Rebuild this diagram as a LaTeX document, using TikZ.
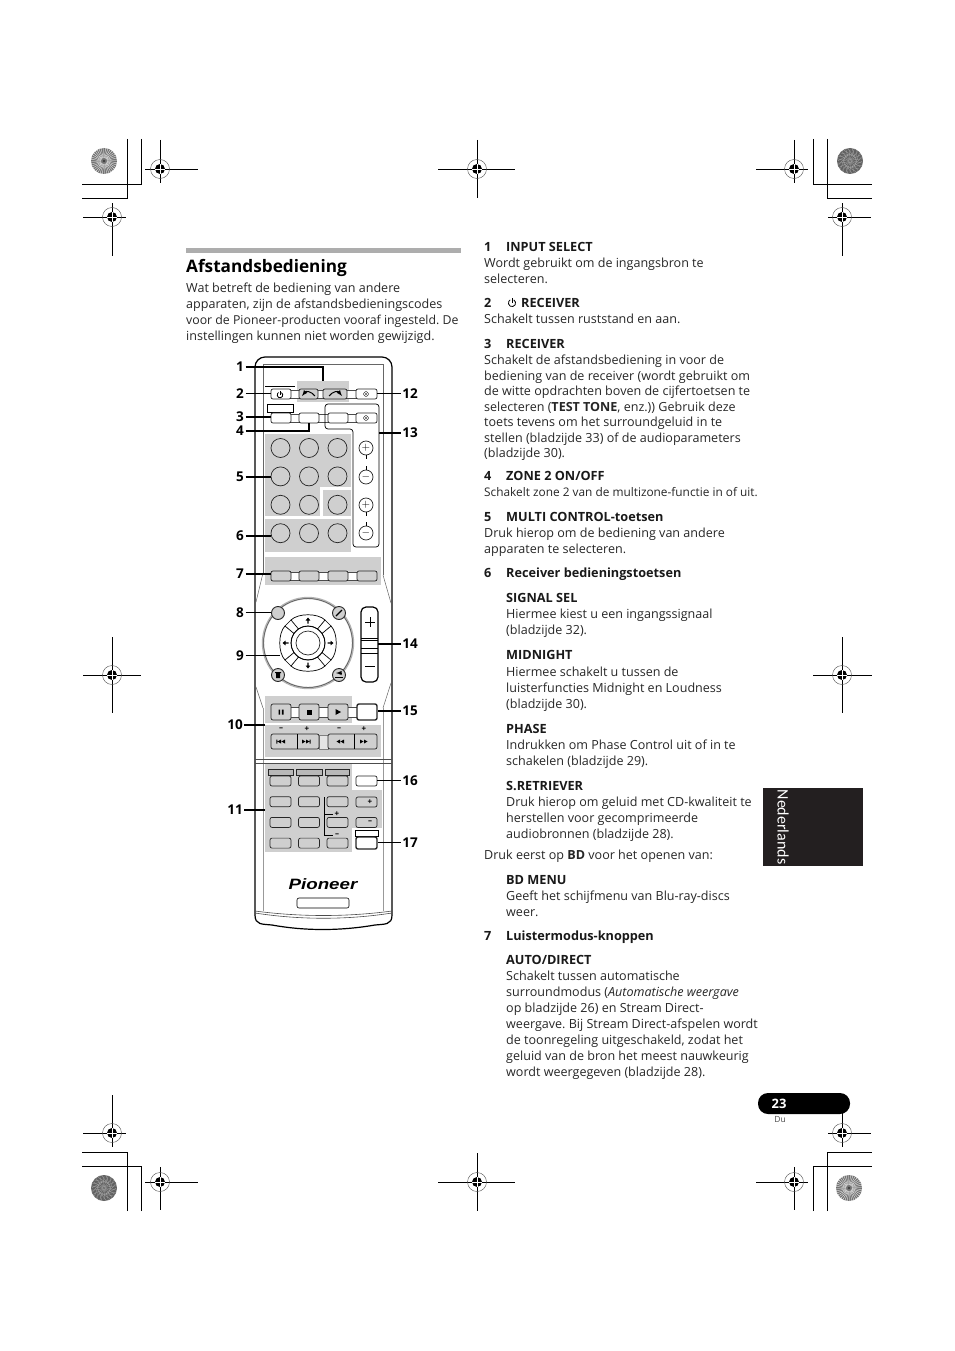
\documentclass[tikz,border=0pt]{standalone}
\usepackage{fontspec}
\setmainfont{Open Sans}
\newfontfamily\logofont[FakeStretch=1.25]{Liberation Sans}
\newfontfamily\tabfont{Carlito}
\usetikzlibrary{positioning}
\definecolor{padgray}{HTML}{CFCFCF}
\definecolor{tabblack}{HTML}{231F20}
\tikzset{
  para/.style={inner sep=0pt, anchor=north west, align=left, text=black!85, font=\frenchspacing\fontsize{12.55}{16}\selectfont, execute at begin node=\strut},
  parab/.style={para, font=\frenchspacing\fontsize{12.55}{15.5}\selectfont},
  head/.style={inner sep=0pt, anchor=north west, font=\fontsize{12.7}{16}\selectfont\bfseries, text=black!90, execute at begin node=\strut},
  lbl/.style={inner sep=1.5pt, font=\fontsize{13.5}{14}\selectfont\bfseries},
  leader/.style={line width=1.5pt},
  pad/.style={fill=padgray, inner sep=0pt},
  btn/.style={draw=black!85, line width=.7pt, rounded corners=2pt, fill=padgray, inner sep=0pt, minimum width=20pt, minimum height=10pt},
  btnw/.style={btn, fill=white},
  btnk/.style={btnw, line width=1.4pt},
  keyc/.style={draw=black!85, line width=.7pt, circle, inner sep=0pt, minimum size=19pt},
  volc/.style={draw=black!85, line width=.7pt, circle, fill=white, inner sep=0pt, minimum size=14pt},
  link/.style={draw=black!70, line width=.4pt, fill=white},
  small/.style={inner sep=0pt, font=\fontsize{8}{8}\selectfont\bfseries},
}
% registration marks: x, y, left, right, up, down
\newcommand{\regmark}[6]{
  \draw[line width=.8pt] (#1-#3,#2) -- (#1+#4,#2) (#1,#2-#5) -- (#1,#2+#6);
  \draw[black!70, line width=.4pt] (#1,#2) circle (9.5);
  \fill (#1,#2) circle (5);
  \draw[white, line width=.5pt] (#1-5,#2) -- (#1+5,#2) (#1,#2-5) -- (#1,#2+5);
}
\newcommand{\starburst}[2]{
  \fill[black!55] (#1,#2) circle (13);
  \foreach \a in {0,10,...,350}
    \draw[white, line width=.3pt, shift={(#1,#2)}] (\a:3) -- (\a+8:13);
  \fill[black!80] (#1,#2) circle (1.2);
}
\newcommand{\starfine}[2]{
  \fill[black!62] (#1,#2) circle (13);
  \foreach \a in {0,20,...,340}
    \draw[black!35, line width=.3pt, shift={(#1,#2)}] (\a:1) -- (\a+50:12.5) (\a:12.5) -- (\a+70:6);
}
% power symbol: x, y, radius
\newcommand{\powericon}[3]{
  \draw[line width=.8pt] (#1+.5*#3,#2-.866*#3) arc[start angle=60, end angle=-240, radius=#3 pt];
  \draw[line width=.8pt] (#1,#2-#3-1) -- (#1,#2);
}
\begin{document}
\begin{tikzpicture}[x=1pt,y=-1pt]
\useasboundingbox (0,0) rectangle (954,1351);

% page marks
\regmark{160}{169}{15}{38}{29}{14} \regmark{112}{217}{29}{14}{14}{39}
\regmark{794}{169}{38}{14}{29}{14} \regmark{842}{217}{14}{29}{14}{39}
\regmark{477}{169}{39}{38}{29}{29} \regmark{112}{675}{29}{29}{38}{38} \regmark{842}{675}{29}{30}{38}{38}
\regmark{112}{1133}{29}{14}{38}{14} \regmark{160}{1182}{15}{38}{15}{28}
\regmark{477}{1182}{39}{38}{29}{29}
\regmark{794}{1182}{38}{14}{15}{28} \regmark{842}{1133}{14}{29}{38}{14}
\starburst{104}{161} \starfine{850}{161} \starfine{104}{1188} \starburst{849}{1188}
\draw[line width=.8pt] (127,139) |- (82,198) (141,139) |- (82,184);
\draw[line width=.8pt] (827,139) |- (872,198) (813,139) |- (872,184);
\draw[line width=.8pt] (127,1211) |- (82,1152) (141,1211) |- (82,1166);
\draw[line width=.8pt] (827,1211) |- (872,1152) (813,1211) |- (872,1166);

% left column
\fill[black!32] (186,248) rectangle (461,253);
\node[inner sep=0pt, anchor=west, font=\fontsize{17.2}{20}\selectfont\bfseries] (title) at (186,268) {Afstandsbediening};
\node[para] (intro) at (186,283) {Wat betreft de bediening van andere\\apparaten, zijn de afstandsbedieningscodes\\{\fontsize{12.3}{16}\selectfont voor de Pioneer-producten vooraf ingesteld. De}\\instellingen kunnen niet worden gewijzigd.};

% right column
\node[head] at (484,240) {1}; \node[head] at (506,240) {INPUT SELECT};
\node[para] at (484,258) {Wordt gebruikt om de ingangsbron te\\selecteren.};
\node[head] at (484,296) {2}; \node[head] at (521,296) {RECEIVER};
\powericon{512}{303}{3.6}
\node[para] at (484,312) {Schakelt tussen ruststand en aan.};
\node[head] at (484,337) {3}; \node[head] at (506,337) {RECEIVER};
\node[parab] at (484,355) {Schakelt de afstandsbediening in voor de\\bediening van de receiver (wordt gebruikt om\\de witte opdrachten boven de cijfertoetsen te\\selecteren ({\bfseries TEST TONE}, enz.)) Gebruik deze\\toets tevens om het surroundgeluid in te\\stellen (bladzijde 33) of de audioparameters\\(bladzijde 30).};
\node[head] at (484,469) {4}; \node[head] at (506,469) {ZONE 2 ON/OFF};
\node[para, font=\frenchspacing\fontsize{11.85}{16}\selectfont] at (484,485) {Schakelt zone 2 van de multizone-functie in of uit.};
\node[head] at (484,510) {5}; \node[head] at (506,510) {MULTI CONTROL-toetsen};
\node[para] at (484,528) {Druk hierop om de bediening van andere\\apparaten te selecteren.};
\node[head] at (484,566) {6}; \node[head] at (506,566) {Receiver bedieningstoetsen};
\node[head] at (506,591) {SIGNAL SEL};
\node[para] at (506,609) {Hiermee kiest u een ingangssignaal\\(bladzijde 32).};
\node[head] at (506,648) {MIDNIGHT};
\node[para] at (506,667) {Hiermee schakelt u tussen de\\luisterfuncties Midnight en Loudness\\(bladzijde 30).};
\node[head] at (506,722) {PHASE};
\node[para] at (506,740) {Indrukken om Phase Control uit of in te\\schakelen (bladzijde 29).};
\node[head] at (506,779) {S.RETRIEVER};
\node[para] at (506,797) {Druk hierop om geluid met CD-kwaliteit te\\herstellen voor gecomprimeerde\\audiobronnen (bladzijde 28).};
\node[para] at (484,848) {Druk eerst op {\bfseries BD} voor het openen van:};
\node[head] at (506,873) {BD MENU};
\node[para] at (506,891) {Geeft het schijfmenu van Blu-ray-discs\\weer.};
\node[head] at (484,929) {7}; \node[head] at (506,929) {Luistermodus-knoppen};
\node[head] at (506,953) {AUTO/DIRECT};
\node[para] at (506,971) {Schakelt tussen automatische\\surroundmodus ({\itshape Automatische weergave}\\op bladzijde 26) en Stream Direct-\\weergave. Bij Stream Direct-afspelen wordt\\de toonregeling uitgeschakeld, zodat het\\geluid van de bron het meest nauwkeurig\\wordt weergegeven (bladzijde 28).};

% language tab and page number
\node[fill=tabblack, minimum width=100pt, minimum height=78pt, inner sep=0pt] (tab) at (813,827) {};
\node[rotate=-90, text=white, inner sep=0pt, font=\tabfont\fontsize{16}{16}\selectfont] (lang) at (783,827) {Nederlands};
\node[fill=black, rounded corners=10pt, minimum width=92pt, minimum height=21pt, inner sep=0pt] (pagepill) at (804,1103.5) {};
\node[text=white, inner sep=0pt, font=\fontsize{13}{14}\selectfont\bfseries] (pagenum) at (779,1103.5) {23};
\node[inner sep=0pt, text=black!70, font=\fontsize{8.5}{9}\selectfont] (pagelang) at (780,1119) {Du};

% remote body
\draw[line width=1.2pt, rounded corners=10pt] (255,915) -- (255,357) -- (392,357) -- (392,915);
\draw[line width=1.2pt] (392,915) .. controls (392,925) and (385,924) .. (375,925) .. controls (340,931) and (305,931) .. (272,925) .. controls (262,924) and (255,925) .. (255,915);
\draw[black!60, line width=.5pt] (263,573) -- (263,364) -- (383,364) -- (383,575);
\draw[black!60, line width=.5pt] (263,573) -- (256,602) (383,575) -- (391,603);
\draw[black!60, line width=.5pt] (256,687) -- (263,708) (391,683) -- (383,708);
\draw[black!40, line width=.4pt] (263,708) -- (263,911) (383,708) -- (383,911);
\draw[black!70, line width=.6pt] (255,759) -- (392,759) (255,763) -- (392,763);
\draw[black!70, line width=.6pt] (255,911) .. controls (300,917) and (347,917) .. (392,911);
\draw[black!70, line width=.6pt] (255,913) .. controls (300,920) and (347,920) .. (392,913);

% gray panels
\node[pad, minimum width=52pt, minimum height=21pt] (padtop) at (323,391.5) {};
\node[pad, minimum width=86pt, minimum height=53pt] (padkeys) at (308,460.5) {};
\node[pad, minimum width=55pt, minimum height=29pt] (padkeysb) at (292.5,501.5) {};
\node[pad, minimum width=28pt, minimum height=26pt] (padkeysc) at (337,503) {};
\node[pad, minimum width=86pt, minimum height=33pt] (padnum) at (308,535.5) {};
\node[pad, minimum width=116pt, minimum height=28pt] (padlisten) at (323,571) {};
\node[pad, minimum width=87pt, minimum height=27pt] (padplay) at (308.5,709.5) {};
\node[pad, minimum width=116pt, minimum height=32pt] (padskip) at (323,741) {};
\node[pad, minimum width=87pt, minimum height=88pt] (padlow) at (308.5,808) {};
\node[pad, minimum width=30pt, minimum height=38pt] (padlowr) at (367,809) {};

% link bars
\foreach \y in {394,418,576} \draw[link] (281,\y-4) rectangle (367,\y+4);
\draw[link] (281,707) rectangle (367,717);
\draw[draw=black!50, line width=.4pt, fill=black!10] (319,735) rectangle (328,749);

% top rows
\draw[black, line width=.6pt] (265,386.5) -- (295,386.5);
\node[btnw] (bpower) at (281,394) {};
\node[btn, minimum width=19pt] (bleft) at (308.5,394) {};
\node[btn, minimum width=24pt] (bright) at (335,394) {};
\node[btnw, minimum width=21pt] (bled) at (366.5,394) {};
\node[draw, line width=.6pt, fill=white, minimum width=26pt, minimum height=8pt, inner sep=0pt] (boxinput) at (280,408) {};
\node[btnw] (binput) at (281,418) {};
\node[btnw] (bzone) at (309,418) {};
\node[btnw] (brcv) at (338,418) {};
\node[btnw, minimum width=21pt] (bledb) at (366.5,418) {};
\foreach \y in {394,418} {
  \draw[line width=.4pt] (366,\y) circle (2.4);
  \fill (366,\y) circle (.9);
}
\powericon{280}{395}{2.8}
\draw[line width=1pt, latex-] (302,396) .. controls (306,391) and (311,391) .. (315,396);
\draw[line width=1pt, -latex] (329,396) .. controls (333,391) and (338,391) .. (342,396);
\draw[line width=.7pt, rounded corners=3pt] (325,429) -- (325,404) -- (379,404) -- (379,547) -- (353,547) -- (353,429) -- cycle;
\coordinate (ptbracket) at (379,433);

% keypad
\foreach \x in {1,2,3}
  \foreach \y in {1,2,3,4}
    \node[keyc] (k\y\x) at ({280.5+(\x-1)*28.5},{448+(\y-1)*28.4}) {};
\foreach \y/\s in {448/+,477/-,505/+,533/-} {
  \node[volc, font=\bfseries\fontsize{11}{11}\selectfont] at (366,\y) {$\s$};
}
\draw[line width=.6pt] (366,455) -- (366,459) (366,466) -- (366,470) (366,512) -- (366,516) (366,522) -- (366,526);

% listening mode
\node[btn] (lm1) at (281,576) {};
\node[btn] (lm2) at (309,576) {};
\node[btn] (lm3) at (338,576) {};
\node[btn] (lm4) at (367,576) {};

% cross keys
\coordinate (cross) at (308,643);
\draw[black!30, line width=2.4pt] (cross) circle (45);
\draw[black!70, line width=.5pt] (cross) circle (44.5);
\foreach \a in {0,90,180,270} {
  \draw[line width=.7pt, fill=white, shift={(cross)}, rotate=\a, x=1pt, y=1pt] (-9.5,14) -- (-17,23) .. controls (-10,30) and (10,30) .. (17,23) -- (9.5,14) arc[start angle=56, end angle=124, radius=17pt];
  \draw[line width=.5pt, shift={(cross)}, rotate=\a, x=1pt, y=1pt] (17,23) -- (23,17) (9.5,14) -- (14,9.5);
  \fill[shift={(cross)}, rotate=\a, x=1pt, y=1pt] (-2.4,22.5) -- (0,25.5) -- (2.4,22.5) -- (.7,22.5) -- (.7,19.5) -- (-.7,19.5) -- (-.7,22.5) -- cycle;
}
\draw[line width=.7pt] (cross) circle (17);
\node[draw=black!85, line width=.7pt, circle, minimum size=24pt, inner sep=0pt] (benter) at (cross) {};
\foreach \n/\x/\y in {chome/278/613, ctool/339/613, ctrash/278/675, creturn/339/675}
  \node[draw=black!85, line width=.9pt, circle, fill=padgray, minimum size=13pt, inner sep=0pt] (\n) at (\x,\y) {};
\draw[line width=1.2pt] (336,616) -- (342,610);
\fill (276,673) rectangle (280,678) (275,672) rectangle (281,673);
\draw[line width=.9pt] (335,677) -- (343,677);
\draw[line width=.9pt, latex-] (336,673) -- (342,673);
\coordinate (ptarrowl) at (280,656);

% volume rocker
\draw[line width=1.2pt, rounded corners=5pt] (361,607) rectangle (378,682);
\draw[line width=.6pt] (361,638) -- (378,638) (361,640) -- (378,640) (361,648) -- (378,648) (361,653) -- (378,653);
\draw[line width=1pt] (365,622) -- (375,622) (370,617) -- (370,627) (365,666) -- (375,666);
\coordinate (ptrocker) at (378,644);

% transport
\node[btn, minimum height=16pt] (tpause) at (281,712) {};
\node[btn, minimum height=16pt] (tstop) at (309,712) {};
\node[btn, minimum height=16pt] (tplay) at (338,712) {};
\node[btnk, minimum height=16pt] (tblank) at (367,712) {};
\fill (278.5,709.5) rectangle (280.2,714.5) (281.8,709.5) rectangle (283.5,714.5);
\fill (306.5,709.5) rectangle (311.5,714.5);
\fill (335.5,709) -- (341,712) -- (335.5,715) -- cycle;
\node[btn, minimum width=48pt, minimum height=15pt] (skipa) at (295,741.5) {};
\node[btn, minimum width=49pt, minimum height=15pt] (skipb) at (352.5,741.5) {};
\draw[line width=.6pt] (297,734) -- (297,749) (354,734) -- (354,749);
\node[small] at (281,729) {--}; \node[small] at (307,729) {+}; \node[small] at (339,729) {--}; \node[small] at (364,729) {+};
\fill (281,739.5) -- (277.5,741.5) -- (281,743.5) -- cycle (285,739.5) -- (281.5,741.5) -- (285,743.5) -- cycle (276.4,739.5) rectangle (277.4,743.5);
\fill (306,739.5) -- (309.5,741.5) -- (306,743.5) -- cycle (302,739.5) -- (305.5,741.5) -- (302,743.5) -- cycle (309.6,739.5) rectangle (310.6,743.5);
\fill (340,739.5) -- (336.5,741.5) -- (340,743.5) -- cycle (344,739.5) -- (340.5,741.5) -- (344,743.5) -- cycle;
\fill (364,739.5) -- (367.5,741.5) -- (364,743.5) -- cycle (360,739.5) -- (363.5,741.5) -- (360,743.5) -- cycle;

% lower keys
\foreach \x/\w in {280.5/25,309/26,337/24}
  \node[draw=black!85, line width=.6pt, fill=black!28, minimum width=\w pt, minimum height=6pt, inner sep=0pt] at (\x,772) {};
\foreach \x in {1,2,3}
  \foreach \y in {1,2,3,4}
    \node[btn, minimum width=21pt] (f\y\x) at ({280.5+(\x-1)*28.5},{781+(\y-1)*20.7}) {};
\node[btnw, minimum width=21pt] (fa) at (366.5,781) {};
\node[btn, minimum width=21pt] (fb) at (366.5,802) {};
\node[btn, minimum width=21pt] (fc) at (366.5,822.5) {};
\node[draw, line width=.7pt, fill=white, minimum width=23pt, minimum height=6pt, inner sep=0pt] (fbox) at (366.5,833) {};
\node[btnk, minimum width=21pt, minimum height=12pt] (fd) at (366.5,843) {};
\node[small] at (370,802) {+}; \node[small] at (370,822.5) {--};
\draw[line width=.6pt] (333,814) -| (324,797) (324,814) |- (333,835);
\node[small] at (337,814) {+}; \node[small] at (337,835) {--};

% logo
\node[inner sep=0pt, font=\logofont\fontsize{15}{15}\selectfont\bfseries\itshape] (logo) at (323,884) {Pioneer};
\node[draw, line width=.6pt, rounded corners=2pt, minimum width=52pt, minimum height=10pt, inner sep=0pt] (logobox) at (323,903) {};

% numbered callouts
\foreach \n/\x/\y in {1/240/367, 2/240/393.5, 3/240/417, 4/240/431, 5/240/477, 6/240/536, 7/240/574, 8/240/612.5, 9/240/655.5, 10/235/725, 11/235/810, 12/410/393.5, 13/410/433, 14/410/644, 15/410/711, 16/410/780.5, 17/410/842.5}
  \node[lbl] (n\n) at (\x,\y) {\n};
\draw[leader] (n1) -| (padtop.north);
\draw[leader] (n2) -- (n2 -| bpower.west);
\draw[leader] (n3) -- (n3 -| binput.west);
\draw[leader] (n4) -| (bzone.south);
\draw[leader] (n5) -- (n5 -| k21.west);
\draw[leader] (n6) -- (n6 -| k41.west);
\draw[leader] (n7) -- (n7 -| lm1.west);
\draw[leader] (n8) -- (n8 -| chome.west);
\draw[leader] (n9) -- (n9 -| ptarrowl);
\draw[leader] (n10) -- (n10 -| padskip.west);
\draw[leader] (n11) -- (n11 -| padlow.west);
\draw[leader] (n12) -- (n12 -| bled.east);
\draw[leader] (n13) -- (ptbracket);
\draw[leader] (n14) -- (ptrocker);
\draw[leader] (n15) -- (n15 -| tblank.east);
\draw[leader] (n16) -- (n16 -| fa.east);
\draw[leader] (n17) -- (n17 -| fd.east);
\end{tikzpicture}
\end{document}
